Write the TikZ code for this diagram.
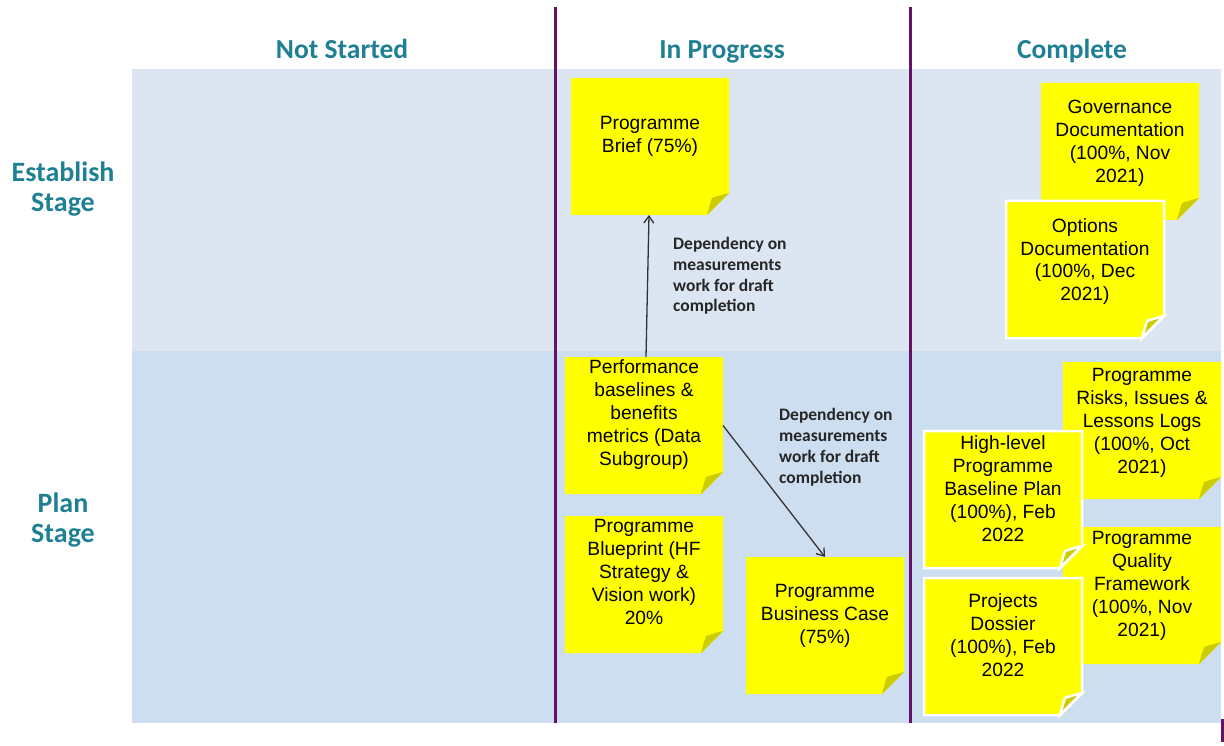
\documentclass[tikz,border=0pt]{standalone}
\usepackage{fontspec}
\setmainfont{Liberation Sans}
\newfontfamily\calib{Carlito}
\usetikzlibrary{arrows.meta}

\definecolor{bandtop}{RGB}{220,230,242}
\definecolor{bandbot}{RGB}{205,222,240}
\definecolor{headteal}{RGB}{31,128,148}
\definecolor{divider}{RGB}{102,16,104}
\definecolor{noteyellow}{RGB}{255,255,0}
\definecolor{notefold}{RGB}{204,204,0}

\tikzset{
  notebox/.style={minimum width=158pt, minimum height=137pt, inner sep=0pt,
    outer sep=0pt, anchor=north west, draw=none},
  notepaper/.style={fill=noteyellow},
  notecurl/.style={fill=notefold},
  rimmed/.style={draw=white, line width=2.5pt, line join=miter},
  notetext/.style={anchor=base, align=center, inner sep=0pt,
    font=\fontsize{19.2}{23}\selectfont},
  colhead/.style={anchor=base, inner sep=0pt, text=headteal,
    font=\calib\bfseries\fontsize{27.5}{30}\selectfont},
  rowhead/.style={anchor=base, align=center, inner sep=0pt, text=headteal,
    font=\calib\bfseries\fontsize{28}{30}\selectfont},
  deplabel/.style={anchor=base west, align=left, inner sep=0pt, text=black!85,
    font=\calib\bfseries\fontsize{17.5}{20.7}\selectfont},
  dep/.style={draw=black!80, line width=1.3pt,
    -{Straight Barb[length=7pt,width=10pt]}},
  divline/.style={draw=divider, line width=3pt},
}

% a sticky note with a curled bottom-right corner
% #1 extra style, #2 name, #3/#4 top-left corner, #5 baseline of the last line, #6 text
\newcommand\stickynote[6][]{%
  \node[notebox] (#2) at (#3,#4) {};
  \path[notepaper,#1] (#2.north west) -- (#2.north east)
    -- ([yshift=22pt]#2.south east) -- ([xshift=-22pt]#2.south east)
    -- (#2.south west) -- cycle;
  \path[notecurl,#1] ([yshift=22pt]#2.south east)
    .. controls ([xshift=-8pt,yshift=20pt]#2.south east)
       and ([xshift=-14pt,yshift=18pt]#2.south east)
    .. ([xshift=-17pt,yshift=17pt]#2.south east)
    .. controls ([xshift=-18pt,yshift=14pt]#2.south east)
       and ([xshift=-20pt,yshift=8pt]#2.south east)
    .. ([xshift=-22pt]#2.south east) -- cycle;
  \node[notetext] (#2-text) at (#2.north |- 0,#5) {#6};
}

\begin{document}
\begin{tikzpicture}[x=1pt,y=-1pt]
\useasboundingbox (0,0) rectangle (1224,746);

% stage bands
\fill[bandtop] (132,69) rectangle (1221,351);
\fill[bandbot] (132,351) rectangle (1221,723);

% column dividers
\draw[divline] (555,7) -- (555,723);
\draw[divline] (910,7) -- (910,723);
\draw[divline] (1222,719) -- (1222,742);

% column and row headings
\node[colhead] (hns) at (342,59) {Not Started};
\node[colhead] (hip) at (722,59) {In Progress};
\node[colhead] (hco) at (1072,59) {Complete};
\node[rowhead] (hest) at (63,212) {Establish\\Stage};
\node[rowhead] (hplan) at (63,542) {Plan\\Stage};

% In Progress
\stickynote{brief}{571}{78}{153}{Programme\\Brief (75\%)}
\stickynote{perf}{565}{357}{465}{Performance\\baselines \&\\benefits\\metrics (Data\\Subgroup)}
\stickynote{blue}{565}{516}{624}{Programme\\Blueprint (HF\\Strategy \&\\Vision work)\\20\%}
\stickynote{bcase}{746}{557}{643}{Programme\\Business Case\\(75\%)}

% Complete
\stickynote{gov}{1041}{83}{183}{Governance\\Documentation\\(100\%, Nov\\2021)}
\stickynote[rimmed]{opts}{1006}{201}{301}{Options\\Documentation\\(100\%, Dec\\2021)}
\stickynote{risks}{1063}{362}{473}{Programme\\Risks, Issues \&\\Lessons Logs\\(100\%, Oct\\2021)}
\stickynote{quality}{1063}{527}{636}{Programme\\Quality\\Framework\\(100\%, Nov\\2021)}
\stickynote[rimmed]{hilevel}{924}{431}{541}{High-level\\Programme\\Baseline Plan\\(100\%), Feb\\2022}
\stickynote[rimmed]{dossier}{924}{578}{676}{Projects\\Dossier\\(100\%), Feb\\2022}

% dependencies
\draw[dep] ([xshift=2pt]perf.north) -- ([xshift=-1pt]brief.south);
\draw[dep] (perf.east) -- (bcase.north);
\node[deplabel] (dep1) at (673,312) {Dependency on\\measurements\\work for draft\\completion};
\node[deplabel] (dep2) at (779,483) {Dependency on\\measurements\\work for draft\\completion};
\end{tikzpicture}
\end{document}
